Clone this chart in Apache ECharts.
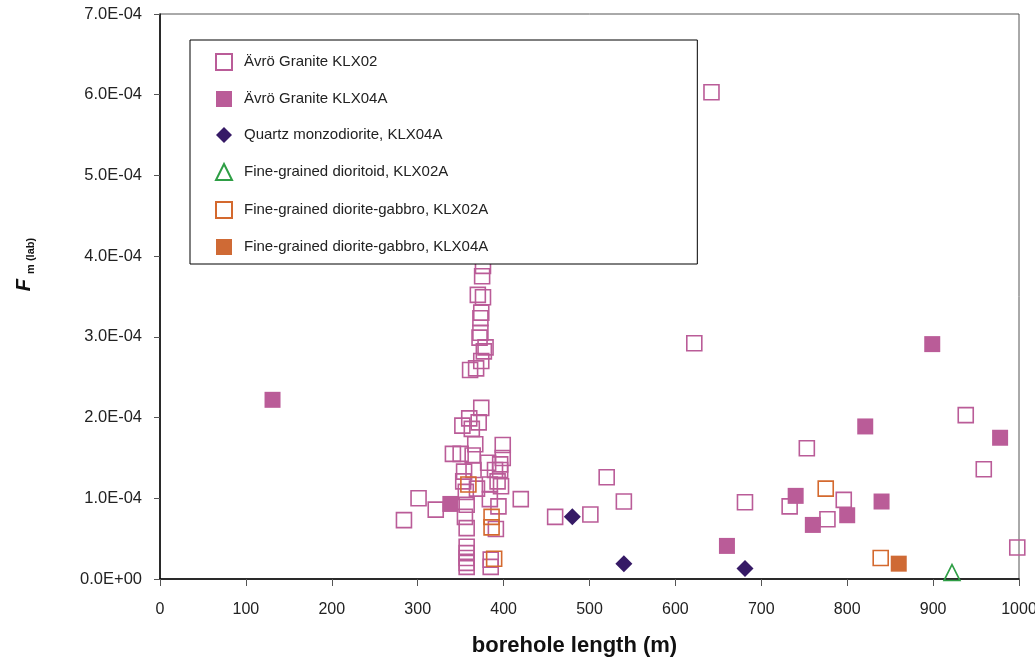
<!DOCTYPE html>
<html>
<head>
<meta charset="utf-8">
<script src="https://cdn.jsdelivr.net/npm/echarts@6/dist/echarts.min.js"></script>
<style>
  html, body { margin: 0; padding: 0; background: #fff; }
  #chart { width: 1035px; height: 660px; }
</style>
</head>
<body>
<div id="chart"></div>
<script>
// Fm(lab) against borehole length, one array per rock type / borehole: [length (m), Fm]
const avroKLX02 = [
  [642, 6.03e-4],
  [376, 3.88e-4], [375, 3.75e-4], [370, 3.52e-4], [376, 3.49e-4], [374, 3.30e-4],
  [373, 3.23e-4], [373, 3.05e-4], [372, 2.99e-4], [379, 2.87e-4], [377, 2.82e-4],
  [374, 2.70e-4], [368, 2.61e-4], [361, 2.59e-4],
  [374, 2.12e-4], [360, 1.99e-4], [371, 1.94e-4], [352, 1.90e-4], [363, 1.86e-4],
  [367, 1.67e-4], [399, 1.66e-4], [341, 1.55e-4], [350, 1.55e-4], [364, 1.53e-4],
  [399, 1.50e-4], [382, 1.44e-4], [396, 1.42e-4], [396, 1.35e-4], [390, 1.35e-4],
  [354, 1.33e-4], [365, 1.35e-4], [393, 1.21e-4], [384, 1.17e-4], [353, 1.21e-4],
  [356, 1.08e-4], [369, 1.12e-4], [397, 1.15e-4], [384, 0.99e-4], [394, 0.90e-4],
  [420, 0.99e-4], [301, 1.00e-4], [321, 0.86e-4], [284, 0.73e-4], [357, 0.92e-4],
  [355, 0.77e-4], [357, 0.63e-4], [391, 0.62e-4],
  [357, 0.40e-4], [357, 0.32e-4], [357, 0.26e-4], [357, 0.20e-4], [357, 0.15e-4],
  [385, 0.24e-4], [385, 0.15e-4],
  [460, 0.77e-4], [501, 0.80e-4], [520, 1.26e-4], [540, 0.96e-4], [622, 2.92e-4],
  [753, 1.62e-4], [938, 2.03e-4], [959, 1.36e-4], [681, 0.95e-4], [733, 0.90e-4],
  [796, 0.98e-4], [777, 0.74e-4], [998, 0.39e-4]
];
const avroKLX04A = [
  [131, 2.22e-4], [338, 0.93e-4], [660, 0.41e-4], [740, 1.03e-4], [760, 0.67e-4],
  [800, 0.79e-4], [821, 1.89e-4], [840, 0.96e-4], [899, 2.91e-4], [978, 1.75e-4]
];
const quartzMonzodioriteKLX04A = [[480, 0.77e-4], [540, 0.19e-4], [681, 0.13e-4]];
const dioritoidKLX02A = [[922, 0.08e-4]];
const dioriteGabbroKLX02A = [
  [359, 1.17e-4], [386, 0.77e-4], [386, 0.64e-4], [389, 0.25e-4], [775, 1.12e-4], [839, 0.26e-4]
];
const dioriteGabbroKLX04A = [[860, 0.19e-4]];

const seriesNames = [
  'Ävrö Granite KLX02',
  'Ävrö Granite KLX04A',
  'Quartz monzodiorite, KLX04A',
  'Fine-grained dioritoid, KLX02A',
  'Fine-grained diorite-gabbro, KLX02A',
  'Fine-grained diorite-gabbro, KLX04A'
];

const X_MIN = 0, X_MAX = 1000, X_STEP = 100;
const Y_MIN = 0, Y_MAX = 7e-4, Y_STEP = 1e-4;

// "7.0E-04" style tick labels
function sci(v) {
  if (Math.abs(v) < 1e-12) return '0.0E+00';
  let e = Math.floor(Math.log10(Math.abs(v)) + 1e-9);
  let m = v / Math.pow(10, e);
  let s = e < 0 ? '-' : '+';
  return m.toFixed(1) + 'E' + s + String(Math.abs(e)).padStart(2, '0');
}

const PINK = '#BA5C98';
const PURPLE = '#361A66';
const GREEN = '#2E9E45';
const ORANGE = '#D4692E';
const ORANGE_FILL = '#CF6A35';

function openSeries(name, data, symbol, color, size) {
  return {
    name, type: 'scatter', data, symbol, symbolSize: size,
    itemStyle: { color: 'rgba(255,255,255,0)', borderColor: color, borderWidth: 1.6, opacity: 1 },
    emphasis: { disabled: true }
  };
}
function filledSeries(name, data, symbol, color, size) {
  return {
    name, type: 'scatter', data, symbol, symbolSize: size,
    itemStyle: { color, opacity: 1 },
    emphasis: { disabled: true }
  };
}

const chart = echarts.init(document.getElementById('chart'), null, { renderer: 'canvas' });
chart.setOption({
  animation: false,
  backgroundColor: '#fff',
  grid: {
    left: 160, top: 14, right: 16, bottom: 81,
    containLabel: false, outerBoundsMode: 'none',
    show: true, borderColor: '#555', borderWidth: 1, backgroundColor: 'transparent'
  },
  legend: {
    orient: 'vertical',
    left: 190, top: 40,
    padding: [13, 209, 9, 25],
    itemGap: 20,
    itemWidth: 16, itemHeight: 16,
    backgroundColor: '#fff',
    borderColor: '#000', borderWidth: 1, borderRadius: 0,
    selectedMode: false,
    textStyle: { fontFamily: 'Liberation Sans, Arial, sans-serif', fontSize: 15, color: '#222', padding: [0, 0, 0, 7] },
    data: seriesNames
  },
  xAxis: {
    type: 'value', min: X_MIN, max: X_MAX, interval: X_STEP,
    name: 'borehole length (m)', nameLocation: 'middle', nameGap: 56,
    nameTextStyle: { fontFamily: 'Liberation Sans Narrow, Arial Narrow, Liberation Sans, sans-serif', fontWeight: 'bold', fontSize: 22, color: '#111', padding: [0, 30, 0, 0] },
    axisLine: { onZero: false, lineStyle: { color: '#000', width: 1.5 } },
    axisTick: { show: true, inside: false, length: 7, lineStyle: { color: '#555' } },
    axisLabel: { margin: 23, fontFamily: 'Liberation Sans Narrow, Arial Narrow, Liberation Sans, sans-serif', fontSize: 16, color: '#222', formatter: v => String(v) },
    splitLine: { show: false }
  },
  yAxis: {
    type: 'value', min: Y_MIN, max: Y_MAX, interval: Y_STEP,
    name: '{f|F}{s|m (lab)}', nameLocation: 'middle', nameGap: 124, nameRotate: 90,
    nameTextStyle: {
      padding: [0, 0, 0, 64],
      rich: {
        f: { fontFamily: 'Liberation Sans, Arial, sans-serif', fontSize: 20, fontWeight: 'bold', fontStyle: 'italic', color: '#111', lineHeight: 22, verticalAlign: 'top' },
        s: { fontFamily: 'Liberation Sans, Arial, sans-serif', fontSize: 11, fontWeight: 'bold', color: '#111', lineHeight: 22, verticalAlign: 'bottom', padding: [10, 0, 0, 5] }
      }
    },
    axisLine: { onZero: false, lineStyle: { color: '#000', width: 1.5 } },
    axisTick: { show: true, inside: false, length: 6, lineStyle: { color: '#555' } },
    axisLabel: { margin: 18, fontFamily: 'Liberation Sans, Arial, sans-serif', fontSize: 16.5, color: '#222', formatter: sci },
    splitLine: { show: false }
  },
  series: [
    openSeries(seriesNames[0], avroKLX02, 'rect', PINK, 15),
    filledSeries(seriesNames[1], avroKLX04A, 'rect', PINK, 16),
    filledSeries(seriesNames[2], quartzMonzodioriteKLX04A, 'diamond', PURPLE, 17),
    openSeries(seriesNames[3], dioritoidKLX02A, 'triangle', GREEN, 16),
    openSeries(seriesNames[4], dioriteGabbroKLX02A, 'rect', ORANGE, 15),
    filledSeries(seriesNames[5], dioriteGabbroKLX04A, 'rect', ORANGE_FILL, 16)
  ]
});
</script>
</body>
</html>
